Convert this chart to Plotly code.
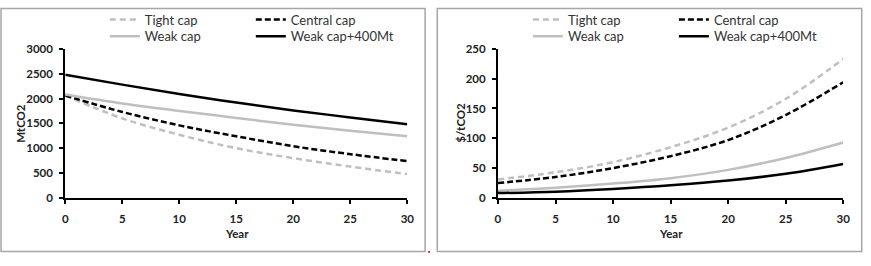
import plotly.graph_objects as go

years = [0, 5, 10, 15, 20, 25, 30]
series_names = ["Tight cap", "Central cap", "Weak cap", "Weak cap+400Mt"]

# Left panel: emissions (MtCO2)
emis_tight = [2060, 1600, 1270, 1000, 800, 630, 480]
emis_central = [2060, 1730, 1460, 1240, 1040, 880, 740]
emis_weak = [2080, 1900, 1750, 1610, 1470, 1350, 1240]
emis_weak400 = [2480, 2280, 2090, 1920, 1760, 1620, 1480]

# Right panel: carbon price ($/tCO2)
price_tight = [31, 43, 60, 85, 118, 166, 233]
price_central = [25, 35, 50, 70, 97, 139, 194]
price_weak = [12, 17, 24, 33, 47, 67, 93]
price_weak400 = [8, 10.5, 15, 21, 29, 40.5, 57]

left_ticks = [0, 500, 1000, 1500, 2000, 2500, 3000]
right_ticks = [0, 50, 100, 150, 200, 250]
x_ticks = [0, 5, 10, 15, 20, 25, 30]

W, H = 871, 266
GRAY = "#BFBFBF"
styles = [
    dict(color=GRAY, width=2.5, dash="6px,4px"),
    dict(color="black", width=2.5, dash="6px,3px"),
    dict(color=GRAY, width=2.5),
    dict(color="black", width=2.5),
]
FONT = "Lato, Calibri, 'Open Sans', sans-serif"

fig = go.Figure()
left_data = [emis_tight, emis_central, emis_weak, emis_weak400]
right_data = [price_tight, price_central, price_weak, price_weak400]
legend_ids = [["legend", "legend", "legend2", "legend2"],
              ["legend3", "legend3", "legend4", "legend4"]]

for i, (name, ys) in enumerate(zip(series_names, left_data)):
    fig.add_trace(go.Scatter(x=years, y=ys, name=name, mode="lines",
                             line=dict(shape="spline", **styles[i]),
                             xaxis="x", yaxis="y", legend=legend_ids[0][i]))
for i, (name, ys) in enumerate(zip(series_names, right_data)):
    fig.add_trace(go.Scatter(x=years, y=ys, name=name, mode="lines",
                             line=dict(shape="spline", **styles[i]),
                             xaxis="x2", yaxis="y2", legend=legend_ids[1][i]))

def px(x):
    return x / W

def py(y):
    return 1 - y / H

y_dom = [py(200.7), py(44)]
tickfont_bold = dict(family=FONT, size=11.5, color="#222", weight="bold")
axis_common = dict(showgrid=False, zeroline=False, showline=True, linecolor="black",
                   linewidth=2, ticks="outside", ticklen=4, tickwidth=1.5, tickcolor="black",
                   tickfont=tickfont_bold)

leg_common = dict(orientation="h", bgcolor="rgba(0,0,0,0)", borderwidth=0,
                  font=dict(family=FONT, size=13, color="#333"),
                  entrywidth=101, entrywidthmode="pixels",
                  xanchor="left", yanchor="middle", itemwidth=30,
                  tracegroupgap=0, traceorder="normal")

fig.update_layout(
    width=W, height=H, margin=dict(l=0, r=0, t=0, b=0),
    paper_bgcolor="white", plot_bgcolor="white",
    showlegend=True,
    xaxis=dict(domain=[px(63), px(409)], range=[0, 30], tickvals=x_ticks,
               anchor="y", ticklabelstandoff=5, **axis_common),
    yaxis=dict(domain=y_dom, range=[0, 3000], tickvals=left_ticks,
               anchor="x", ticklabelstandoff=4, **axis_common),
    xaxis2=dict(domain=[px(500.7), px(850)], range=[0, 30], tickvals=x_ticks,
                anchor="y2", ticklabelstandoff=5, **axis_common),
    yaxis2=dict(domain=y_dom, range=[0, 250], tickvals=right_ticks,
                anchor="x2", ticklabelstandoff=4, **axis_common),
    legend=dict(x=px(103), y=py(13.3), **leg_common),
    legend2=dict(x=px(103), y=py(30.8), **leg_common),
    legend3=dict(x=px(531), y=py(13.3), **leg_common),
    legend4=dict(x=px(531), y=py(30.8), **leg_common),
)

# Axis titles
title_font = dict(family=FONT, size=11.5, color="#222", weight="bold")
for xx, txt in [(237, "Year"), (676, "Year")]:
    fig.add_annotation(x=px(xx), y=py(238.5), xref="paper", yref="paper", text=txt,
                       showarrow=False, font=title_font, xanchor="center", yanchor="middle")
for xx, txt in [(17, "MtCO2"), (462, "$/tCO2")]:
    fig.add_annotation(x=px(xx), y=py(122), xref="paper", yref="paper", text=txt,
                       showarrow=False, textangle=-90, font=title_font,
                       xanchor="center", yanchor="middle")

# Panel borders
border = dict(color="#A6A6A6", width=1.5)
fig.add_shape(type="rect", xref="paper", yref="paper",
              x0=px(-2), x1=px(427), y0=py(257), y1=py(1.5), line=border)
fig.add_shape(type="rect", xref="paper", yref="paper",
              x0=px(439.3), x1=px(868.7), y0=py(257), y1=py(1.5), line=border)
# Small red mark
fig.add_shape(type="rect", xref="paper", yref="paper",
              x0=px(430), x1=px(432), y0=py(258.5), y1=py(256.5),
              line=dict(width=0), fillcolor="#E03030")

fig.write_html("out.html")
